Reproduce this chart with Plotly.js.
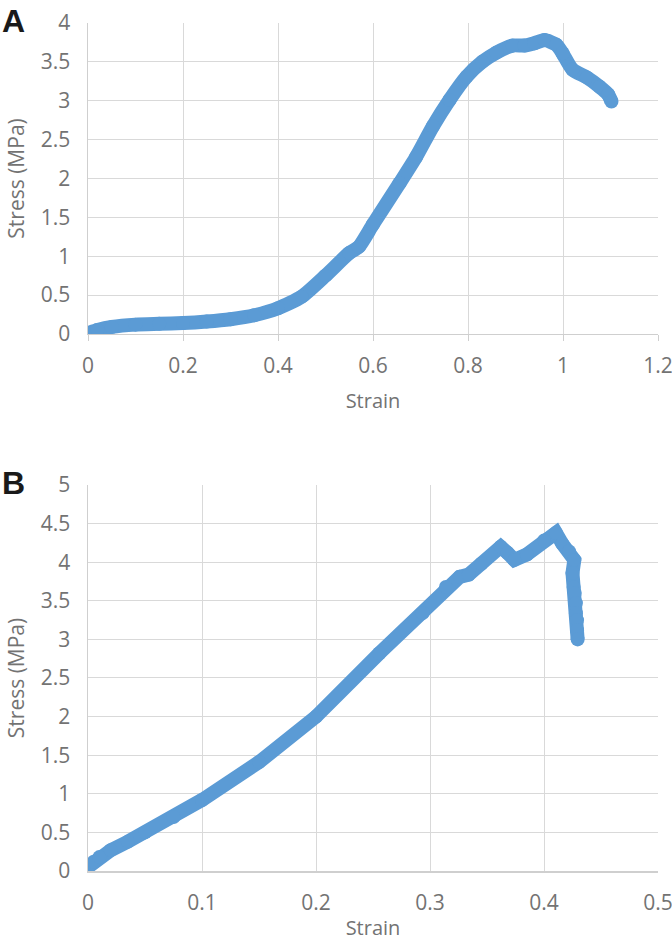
<!DOCTYPE html>
<html>
<head>
<meta charset="utf-8">
<script src="https://cdn.plot.ly/plotly-3.0.1.min.js"></script>
<style>
  html, body { margin: 0; padding: 0; background: #fff; }
  #chart { width: 672px; height: 941px; }
</style>
</head>
<body>
<div id="chart"></div>
<script>
// panel A - stress/strain
var strainA = [0, 0.02, 0.05, 0.1, 0.15, 0.2, 0.25, 0.3, 0.35, 0.4, 0.45, 0.5, 0.55, 0.57, 0.6, 0.656, 0.691, 0.726, 0.761, 0.797, 0.83, 0.86, 0.894, 0.919, 0.94, 0.961, 0.986, 0.999, 1.02, 1.05, 1.077, 1.095, 1.102];
var stressA = [0.01, 0.05, 0.09, 0.12, 0.13, 0.14, 0.16, 0.19, 0.24, 0.33, 0.48, 0.75, 1.04, 1.12, 1.41, 1.94, 2.28, 2.67, 3.01, 3.31, 3.5, 3.62, 3.71, 3.71, 3.74, 3.78, 3.72, 3.61, 3.40, 3.30, 3.18, 3.08, 2.99];

// panel B
var strainB = [0, 0.005, 0.01, 0.02, 0.035, 0.05, 0.075, 0.1, 0.15, 0.2, 0.2556, 0.2935, 0.314, 0.326, 0.334, 0.345, 0.362, 0.368, 0.374, 0.385, 0.4, 0.4105, 0.416, 0.422, 0.4266, 0.425, 0.426, 0.427, 0.428, 0.428, 0.429, 0.429, 0.4295];
var stressB = [0.05, 0.12, 0.18, 0.27, 0.38, 0.5, 0.7, 0.92, 1.41, 2.0, 2.82, 3.34, 3.68, 3.81, 3.84, 3.98, 4.2, 4.12, 4.03, 4.1, 4.28, 4.38, 4.24, 4.14, 4.03, 3.86, 3.68, 3.6, 3.47, 3.34, 3.25, 3.12, 3.0];

var blue = "#5b9bd5";
var tickFont = {family: "Open Sans", size: 21, color: "#737373"};
var titleFont = {family: "Open Sans", size: 20, color: "#737373"};

var traceA = {
  x: strainA, y: stressA,
  xaxis: "x", yaxis: "y",
  mode: "lines+markers",
  line: {color: blue, width: 14, shape: "spline", smoothing: 0.6},
  marker: {color: blue, size: 14},
  hoverinfo: "x+y"
};
var traceB = {
  x: strainB, y: stressB,
  xaxis: "x2", yaxis: "y2",
  mode: "lines+markers",
  line: {color: blue, width: 14},
  marker: {color: blue, size: 14},
  hoverinfo: "x+y"
};

function xAxis(range, dtick, domainAnchor, withTicks, standoff) {
  return {
    anchor: domainAnchor,
    range: range, dtick: dtick, tick0: 0,
    showgrid: true, gridcolor: "#d9d9d9", gridwidth: 1,
    zeroline: false,
    showline: true, linecolor: "#cfcfcf", linewidth: 1.5, mirror: false,
    ticks: withTicks ? "outside" : "", ticklen: 6, tickcolor: "#cfcfcf",
    tickfont: tickFont,
    ticklabelstandoff: withTicks ? 6 : 12,
    ticklabeloverflow: "allow",
    title: {text: "Strain", font: titleFont, standoff: standoff},
    fixedrange: true
  };
}
function yAxis(range, domain, domainAnchor) {
  return {
    anchor: domainAnchor,
    domain: domain,
    range: range, dtick: 0.5, tick0: 0,
    showgrid: true, gridcolor: "#d9d9d9", gridwidth: 1,
    zeroline: false,
    showline: true, linecolor: "#cfcfcf", linewidth: 1.5,
    ticks: "", tickfont: tickFont,
    ticklabelstandoff: 12,
    ticklabeloverflow: "allow",
    title: {text: "Stress (MPa)", font: {family: "Open Sans", size: 21, color: "#737373"}, standoff: 10},
    fixedrange: true
  };
}

var layout = {
  width: 672, height: 941,
  margin: {l: 88, r: 14, t: 23, b: 70},
  paper_bgcolor: "#fff", plot_bgcolor: "#fff",
  showlegend: false,
  xaxis: xAxis([0, 1.2], 0.2, "y", true, 16),
  yaxis: yAxis([0, 4], [0.6333, 1], "x"),
  xaxis2: xAxis([0, 0.5], 0.1, "y2", false, 13),
  yaxis2: yAxis([0, 5], [0, 0.4552], "x2"),
  annotations: [
    {text: "<b>A</b>", xref: "paper", yref: "paper", x: -0.1544, y: 1.026,
     xanchor: "left", yanchor: "top", showarrow: false,
     font: {family: "Liberation Sans", size: 32, color: "#1a1a1a"}},
    {text: "<b>B</b>", xref: "paper", yref: "paper", x: -0.1544, y: 0.481,
     xanchor: "left", yanchor: "top", showarrow: false,
     font: {family: "Liberation Sans", size: 32, color: "#1a1a1a"}}
  ]
};

Plotly.newPlot("chart", [traceA, traceB], layout, {displayModeBar: false, staticPlot: true});
</script>
</body>
</html>
